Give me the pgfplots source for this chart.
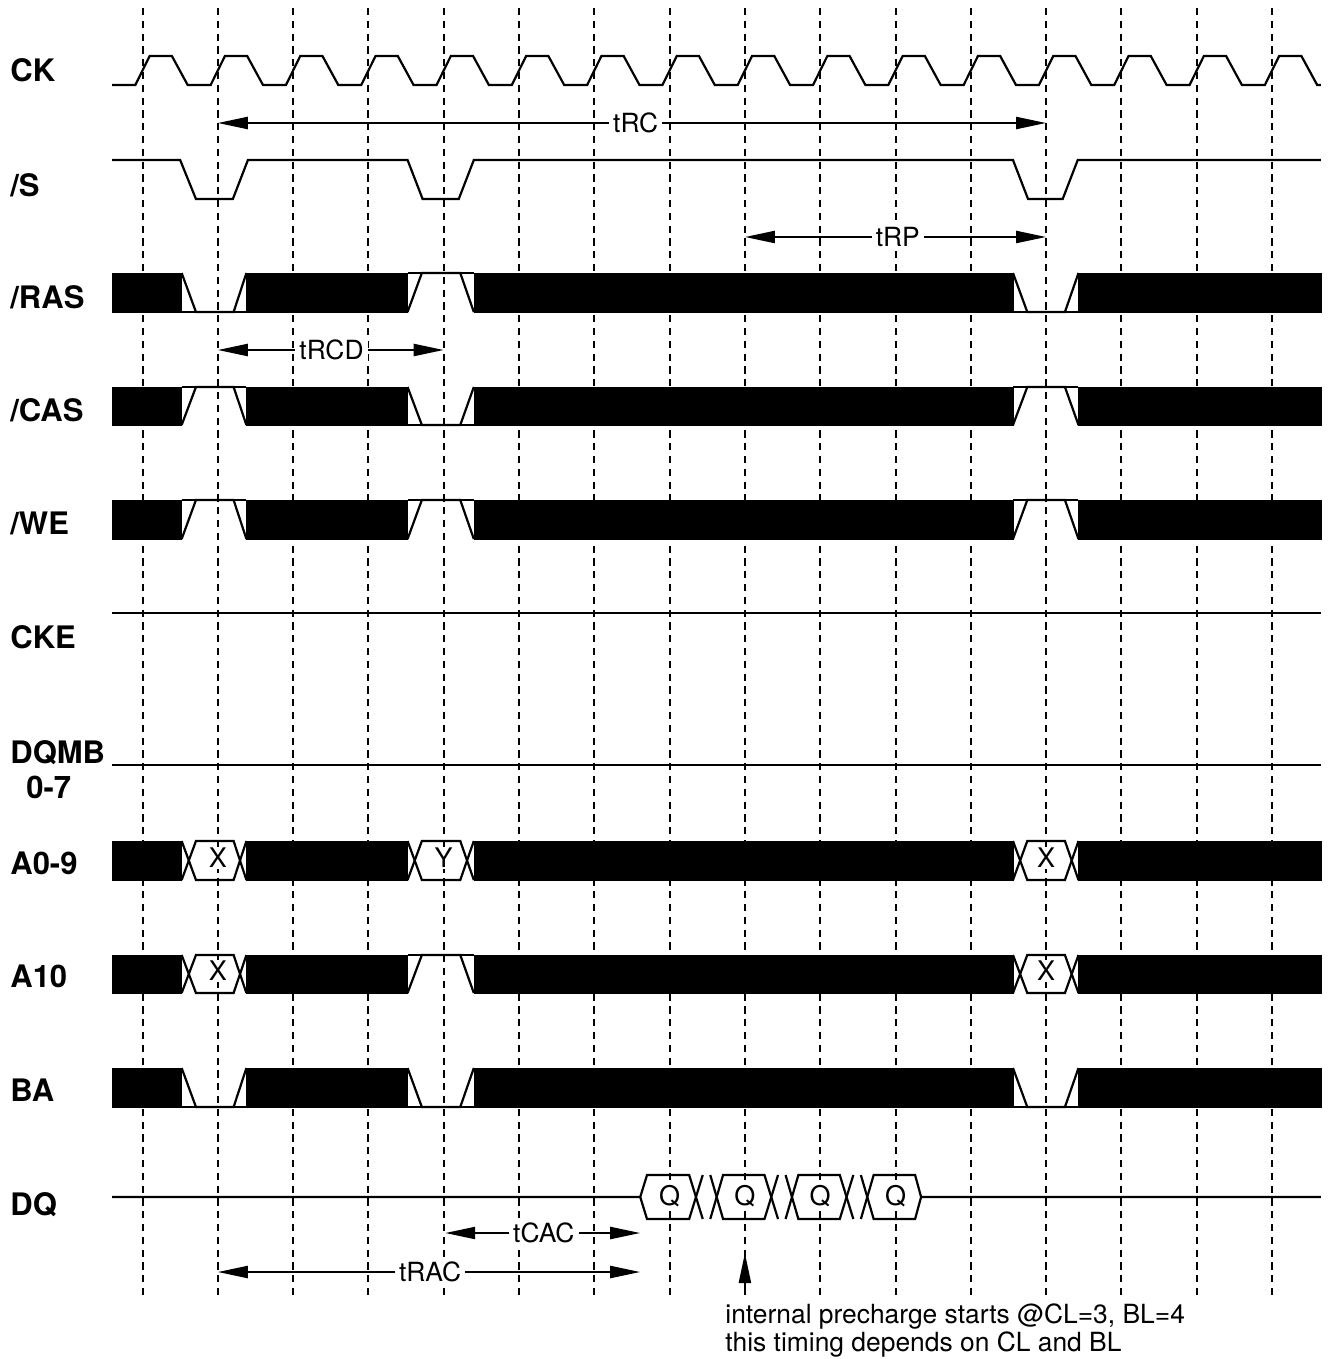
\documentclass[border=0pt]{standalone}
\usepackage{fontspec}
\setmainfont{TeX Gyre Heros}
\usepackage{pgfplots}
\pgfplotsset{compat=1.18}
\usetikzlibrary{arrows.meta}

\newcommand\blackbar[4]{\addplot[fill=black, draw=black, line width=0.4pt] coordinates {(#1,#3) (#2,#3) (#2,#4) (#1,#4)};}
\newcommand\busrow[2]{%
  \blackbar{-0.405}{0.52}{#1}{#2}
  \blackbar{1.38}{3.52}{#1}{#2}
  \blackbar{4.40}{11.56}{#1}{#2}
  \blackbar{12.43}{15.65}{#1}{#2}}
% a b c d top bot
\newcommand\lowgap[6]{%
  \addplot[sigline] coordinates {(#1,#5) (#2,#6) (#3,#6) (#4,#5)};
  \addplot[sigline] coordinates {(#1,#6) (#4,#6)};}
\newcommand\highgap[6]{%
  \addplot[sigline] coordinates {(#1,#6) (#2,#5) (#3,#5) (#4,#6)};
  \addplot[sigline] coordinates {(#1,#5) (#4,#5)};}
\newcommand\xgap[6]{%
  \addplot[sigline] coordinates {(#1,#5) (#2,#6) (#3,#6) (#4,#5)};
  \addplot[sigline] coordinates {(#1,#6) (#2,#5) (#3,#5) (#4,#6)};}

\tikzset{
  >={Triangle[length=15pt,width=6pt]},
  sigline/.style={black, solid, line width=1.1pt},
  sig/.style={font=\fontsize{15.5}{18}\selectfont\bfseries, anchor=base west, inner sep=0pt},
  tim/.style={font=\fontsize{13.2}{15}\selectfont, fill=white, inner sep=2pt},
  box/.style={font=\fontsize{13.5}{15}\selectfont, fill=white, inner sep=0.5pt},
  note/.style={font=\fontsize{13.2}{15}\selectfont, anchor=base west, inner sep=0pt},
}

\begin{document}
\begin{tikzpicture}
\begin{axis}[
  width=666pt, height=679.5pt, scale only axis,
  xmin=-1.8924, xmax=15.7968, ymin=0, ymax=1359, y dir=reverse,
  hide axis, clip=false,
  cycle list={{black,solid,mark=none,line width=1pt}},
]
\path (rel axis cs:0,0) rectangle (rel axis cs:1,1);

% clock grid
\pgfplotsinvokeforeach{0,...,15}{
  \addplot[black, line width=1pt, dash pattern=on 3.6pt off 2.8pt] coordinates {(#1,8) (#1,1296)};
}

% CK
\addplot[sigline] coordinates {
(-0.405,85)
(-0.095,85) (0.095,56) (0.39,56) (0.60,85)
(0.905,85) (1.095,56) (1.39,56) (1.60,85)
(1.905,85) (2.095,56) (2.39,56) (2.60,85)
(2.905,85) (3.095,56) (3.39,56) (3.60,85)
(3.905,85) (4.095,56) (4.39,56) (4.60,85)
(4.905,85) (5.095,56) (5.39,56) (5.60,85)
(5.905,85) (6.095,56) (6.39,56) (6.60,85)
(6.905,85) (7.095,56) (7.39,56) (7.60,85)
(7.905,85) (8.095,56) (8.39,56) (8.60,85)
(8.905,85) (9.095,56) (9.39,56) (9.60,85)
(9.905,85) (10.095,56) (10.39,56) (10.60,85)
(10.905,85) (11.095,56) (11.39,56) (11.60,85)
(11.905,85) (12.095,56) (12.39,56) (12.60,85)
(12.905,85) (13.095,56) (13.39,56) (13.60,85)
(13.905,85) (14.095,56) (14.39,56) (14.60,85)
(14.905,85) (15.095,56) (15.39,56) (15.60,85)
(15.65,85)
};

% /S
\addplot[sigline] coordinates {
(-0.405,160) (0.50,160) (0.71,199) (1.20,199) (1.40,160)
(3.52,160) (3.72,199) (4.20,199) (4.40,160)
(11.56,160) (11.76,199) (12.22,199) (12.42,160) (15.65,160)
};

% /RAS
\busrow{273}{312}
\lowgap{0.52}{0.71}{1.21}{1.38}{273}{312}
\highgap{3.52}{3.71}{4.22}{4.40}{273}{312}
\lowgap{11.56}{11.75}{12.25}{12.43}{273}{312}

% /CAS
\busrow{387}{425}
\highgap{0.52}{0.71}{1.21}{1.38}{387}{425}
\lowgap{3.52}{3.71}{4.22}{4.40}{387}{425}
\highgap{11.56}{11.75}{12.25}{12.43}{387}{425}

% /WE
\busrow{500}{539}
\highgap{0.52}{0.71}{1.21}{1.38}{500}{539}
\highgap{3.52}{3.71}{4.22}{4.40}{500}{539}
\highgap{11.56}{11.75}{12.25}{12.43}{500}{539}

% CKE, DQMB
\addplot[sigline] coordinates {(-0.405,613) (15.65,613)};
\addplot[sigline] coordinates {(-0.405,765) (15.65,765)};

% A0-9
\busrow{841}{880}
\xgap{0.52}{0.71}{1.21}{1.38}{841}{880}
\xgap{3.52}{3.71}{4.22}{4.40}{841}{880}
\xgap{11.56}{11.75}{12.25}{12.43}{841}{880}

% A10
\busrow{955}{993}
\xgap{0.52}{0.71}{1.21}{1.38}{955}{993}
\highgap{3.52}{3.71}{4.22}{4.40}{955}{993}
\xgap{11.56}{11.75}{12.25}{12.43}{955}{993}

% BA
\busrow{1068}{1107}
\lowgap{0.52}{0.71}{1.21}{1.38}{1068}{1107}
\lowgap{3.52}{3.71}{4.22}{4.40}{1068}{1107}
\lowgap{11.56}{11.75}{12.25}{12.43}{1068}{1107}

% DQ
\addplot[sigline] coordinates {(-0.405,1197) (6.61,1197) (6.70,1175) (7.26,1175) (7.44,1219)};
\addplot[sigline] coordinates {(6.61,1197) (6.70,1219) (7.26,1219) (7.44,1175)};
\addplot[sigline] coordinates {(7.54,1175) (7.71,1219) (8.26,1219) (8.44,1175)};
\addplot[sigline] coordinates {(7.54,1219) (7.71,1175) (8.26,1175) (8.44,1219)};
\addplot[sigline] coordinates {(8.54,1175) (8.71,1219) (9.26,1219) (9.44,1175)};
\addplot[sigline] coordinates {(8.54,1219) (8.71,1175) (9.26,1175) (9.44,1219)};
\addplot[sigline] coordinates {(9.54,1175) (9.71,1219) (10.26,1219) (10.34,1197) (15.65,1197)};
\addplot[sigline] coordinates {(9.54,1219) (9.71,1175) (10.26,1175) (10.34,1197)};

% timing arrows
\addplot[sigline, <->] coordinates {(1,123) (12,123)};
\addplot[sigline, <->] coordinates {(8,237) (12,237)};
\addplot[sigline, <->] coordinates {(1,350) (4,350)};
\addplot[sigline, <->] coordinates {(4.02,1233) (6.61,1233)};
\addplot[sigline, <->] coordinates {(1,1272) (6.61,1272)};
\addplot[sigline, ->] coordinates {(8,1293) (8,1253)};

\node[tim] at (axis cs:6.55,123) {tRC};
\node[tim] at (axis cs:10.03,237) {tRP};
\node[tim] at (axis cs:2.51,350) {tRCD};
\node[tim] at (axis cs:5.33,1233) {tCAC};
\node[tim] at (axis cs:3.82,1272) {tRAC};

% bus values
\node[box] at (axis cs:1,858) {X};
\node[box] at (axis cs:4,858) {Y};
\node[box] at (axis cs:12,858) {X};
\node[box] at (axis cs:1,971) {X};
\node[box] at (axis cs:12,971) {X};
\node[box] at (axis cs:7,1196) {Q};
\node[box] at (axis cs:8,1196) {Q};
\node[box] at (axis cs:9,1196) {Q};
\node[box] at (axis cs:10,1196) {Q};

% signal names
\node[sig] at (axis cs:-1.76,81.5) {CK};
\node[sig] at (axis cs:-1.76,196) {/S};
\node[sig] at (axis cs:-1.76,308) {/RAS};
\node[sig] at (axis cs:-1.76,421) {/CAS};
\node[sig] at (axis cs:-1.76,534) {/WE};
\node[sig] at (axis cs:-1.76,648) {CKE};
\node[sig] at (axis cs:-1.76,763) {DQMB};
\node[sig] at (axis cs:-1.547,798) {0-7};
\node[sig] at (axis cs:-1.76,874) {A0-9};
\node[sig] at (axis cs:-1.76,987) {A10};
\node[sig] at (axis cs:-1.76,1101) {BA};
\node[sig] at (axis cs:-1.76,1215) {DQ};

% note
\node[note] at (axis cs:7.736,1323) {internal precharge starts @CL=3, BL=4};
\node[note] at (axis cs:7.736,1351) {this timing depends on CL and BL};
\end{axis}
\end{tikzpicture}
\end{document}
